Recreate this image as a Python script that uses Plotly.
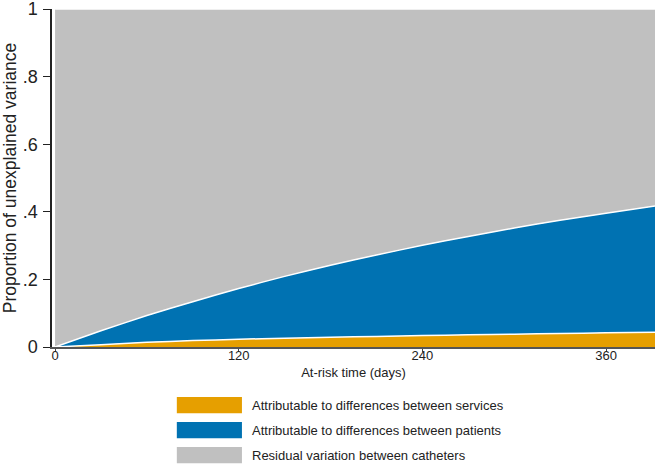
import plotly.graph_objects as go

# Data
days = [0, 30, 60, 90, 120, 150, 180, 210, 240, 270, 300, 330, 360, 392]
services = [0, 0.007, 0.014, 0.019, 0.023, 0.026, 0.029, 0.031, 0.034, 0.036, 0.038, 0.040, 0.042, 0.044]
patients = [0, 0.041, 0.079, 0.115, 0.150, 0.183, 0.213, 0.241, 0.267, 0.291, 0.314, 0.335, 0.354, 0.373]
residual = [1, 0.952, 0.907, 0.866, 0.827, 0.791, 0.758, 0.728, 0.699, 0.673, 0.648, 0.625, 0.604, 0.583]

series_names = [
    "Attributable to differences between services",
    "Attributable to differences between patients",
    "Residual variation between catheters",
]
series_values = [services, patients, residual]
colors = ["#E69F00", "#0072B2", "#C0C0C0"]

x_ticks = [0, 120, 240, 360]
y_ticks = [0, 0.2, 0.4, 0.6, 0.8, 1]
y_tick_text = ["0", ".2", ".4", ".6", ".8", "1"]

FONT = "Liberation Sans, Arial, sans-serif"

fig = go.Figure()
for name, vals, col in zip(series_names, series_values, colors):
    fig.add_trace(go.Scatter(
        x=days, y=vals, name=name, mode="lines",
        stackgroup="one", fillcolor=col,
        line=dict(color="white", width=1.5, shape="spline", smoothing=0.5),
        showlegend=False, hoverinfo="skip",
    ))

# Manual legend (wide swatches like the reference)
legend_rows_y = [-0.172, -0.246, -0.320]
sw_h = 0.024
for name, col, yc in zip(series_names, colors, legend_rows_y):
    fig.add_shape(type="rect", xref="paper", yref="paper",
                  x0=0.207, x1=0.315, y0=yc - sw_h, y1=yc + sw_h,
                  fillcolor=col, line=dict(width=0))
    fig.add_annotation(xref="paper", yref="paper", x=0.329, y=yc,
                       text=name, showarrow=False, xanchor="left", yanchor="middle",
                       font=dict(family=FONT, size=13, color="#222222"))

fig.update_layout(
    width=660, height=466,
    margin=dict(l=52, r=5, t=9, b=119, autoexpand=False),
    paper_bgcolor="white", plot_bgcolor="white",
    font=dict(family=FONT, color="#222222"),
    xaxis=dict(
        range=[-2, 392], tickvals=x_ticks, ticktext=[str(v) for v in x_ticks],
        ticks="outside", ticklen=3, tickwidth=1, tickcolor="#444444",
        ticklabelstandoff=-8,
        showline=True, linecolor="#555555", linewidth=2,
        showgrid=False, zeroline=False, automargin=False,
        tickfont=dict(size=13, family=FONT),
        title=dict(text="At-risk time (days)", font=dict(size=13, family=FONT), standoff=6),
    ),
    yaxis=dict(
        range=[0, 1], tickvals=y_ticks, ticktext=y_tick_text,
        ticks="outside", ticklen=7, tickwidth=1, tickcolor="#222222",
        ticklabelstandoff=2, ticklabeloverflow="allow",
        showline=True, linecolor="#222222", linewidth=1.5,
        showgrid=False, zeroline=False, automargin=False,
        tickfont=dict(size=18, family=FONT),
        title=dict(text="Proportion of unexplained variance", font=dict(size=17.5, family=FONT), standoff=3),
    ),
)

fig.write_html(
    "out.html",
    config={"displayModeBar": False},
    post_script="document.body.style.margin='0';document.body.style.overflow='hidden';",
)
